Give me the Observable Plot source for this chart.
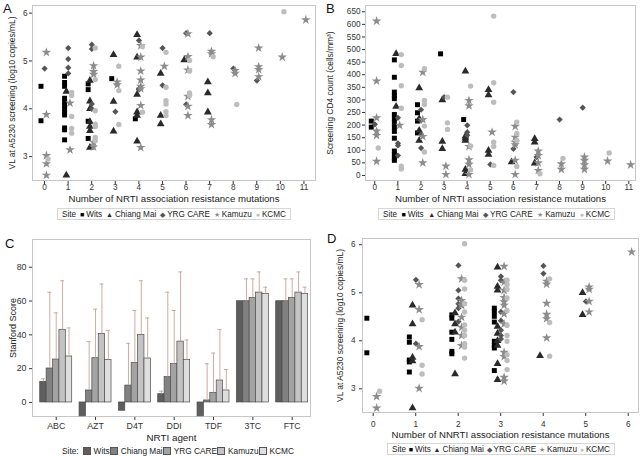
<!DOCTYPE html>
<html><head><meta charset="utf-8">
<script src="https://cdn.jsdelivr.net/npm/d3@7"></script>
<script src="https://cdn.jsdelivr.net/npm/@observablehq/plot@0.6"></script>
<style>
body{margin:0;background:#fff;}
#fig{position:relative;width:640px;height:456px;overflow:hidden;font-family:"Liberation Sans",Arial,sans-serif;color:#222;background:#fff;}
.panel{position:absolute;}
.letter{position:absolute;font-size:13px;line-height:1;color:#111;}
.legend{position:absolute;display:flex;align-items:center;justify-content:space-between;font-size:8.2px;white-space:nowrap;height:12px;box-sizing:border-box;color:#222;padding:0 4px;}
.legend.box{border:1px solid #d6d6d6;}
.legend .it{display:flex;align-items:center;}
.legend .g{font-size:7px;margin-right:2px;line-height:1;}
.sw{display:inline-block;width:6px;height:6px;border:1px solid #555;margin-right:3px;}
</style></head>
<body><div id="fig"></div>
<script>
// ---------- shared ----------
const sites = ["Wits", "Chiang Mai", "YRG CARE", "Kamuzu", "KCMC"];
const siteSymbols = ["square", "triangle", "diamond2", "star", "circle"];
const siteGlyphs = ["■", "▲", "◆", "★", "●"];
const siteColors = ["#000000", "#2a2a2a", "#555555", "#8c8c8c", "#bdbdbd"];
const siteR = [2.8, 2.9, 2.8, 3.0, 2.7];
const siteOffset = [-0.15, -0.075, 0.005, 0.08, 0.15];

// ---------- Panel A: NRTI mutations vs VL ----------
const nrtiTicks = [0,1,2,3,4,5,6,7,8,9,10,11];
const aWits = [[0,4.47],[0,3.75],[1,4.68],[1,4.55],[1,4.47],[1,4.22],[1,4.15],[1,4.08],[1,4.0],[1,3.93],[1,3.87],[1,3.6],[1,3.56],[1,3.35],[2,4.52],[2,4.4],[2,3.74],[2,3.38],[3,4.63],[4,3.79]];
const aChiangMai = [[1,4.36],[1,2.61],[2,4.59],[2,4.16],[2,4.0],[2,3.73],[2,3.63],[2,3.54],[2,3.19],[3,5.13],[3,4.15],[3,3.53],[4,5.55],[4,5.08],[4,4.3],[4,3.93],[4,3.86],[4,3.32],[5,4.74],[5,3.86],[5,3.68],[6,5.02],[7,4.56],[7,4.33],[7,3.93]];
const aYRG = [[0,4.84],[1,5.27],[1,5.04],[1,4.86],[1,4.74],[2,5.34],[2,5.25],[2,4.1],[2,4.0],[3,3.94],[4,5.43],[4,4.42],[4,4.4],[5,5.27],[5,4.49],[6,5.58],[6,4.09],[7,5.58],[8,4.84],[9,4.59]];
const aKamuzu = [[0,5.18],[0,3.88],[0,3.02],[0,2.85],[0,2.61],[1,4.12],[1,3.14],[2,4.9],[2,4.78],[2,4.72],[2,3.3],[2,3.2],[3,4.56],[3,4.5],[4,5.32],[4,5.08],[4,4.79],[4,4.6],[4,4.47],[4,4.42],[4,4.07],[4,3.19],[5,4.89],[6,5.57],[6,5.09],[6,4.81],[6,4.26],[6,4.05],[6,3.86],[7,5.2],[7,5.15],[7,3.77],[7,3.67],[8,4.8],[8,4.74],[9,5.27],[9,4.88],[9,4.82],[9,4.67],[10,5.08],[11,5.86]];
const aKCMC = [[0,2.95],[1,4.34],[1,4.28],[1,3.84],[1,3.59],[1,3.49],[2,5.27],[2,4.61],[2,3.96],[2,3.68],[2,3.63],[2,3.4],[2,3.33],[3,4.89],[3,4.38],[3,3.67],[4,5.3],[4,3.93],[5,5.18],[5,4.45],[5,4.17],[5,4.1],[5,3.94],[5,3.86],[6,5.01],[6,4.79],[6,4.33],[6,4.28],[7,5.09],[8,4.09],[10,6.03]];

// ---------- Panel B: NRTI mutations vs CD4 ----------
const bWits = [[0,216],[0,192],[1,459],[1,390],[1,331],[1,318],[1,305],[1,242],[1,225],[1,209],[1,192],[1,175],[1,148],[1,97],[1,83],[1,69],[1,60],[2,281],[2,249],[2,216],[2,169],[3,483],[4,222]];
const bChiangMai = [[1,483],[1,274],[2,347],[2,225],[2,179],[2,139],[3,300],[3,135],[3,106],[4,414],[4,156],[4,148],[4,139],[4,24],[4,7],[5,340],[5,320],[5,99],[5,83],[6,53],[7,146],[7,132],[7,49]];
const bYRG = [[0,203],[1,229],[1,128],[1,119],[1,79],[2,261],[2,218],[2,163],[2,109],[3,311],[4,199],[4,172],[4,160],[5,44],[6,331],[6,106],[7,73],[8,222],[9,269]];
const bKamuzu = [[0,613],[0,375],[0,229],[0,176],[0,159],[0,56],[1,199],[2,410],[2,222],[2,155],[2,50],[3,37],[3,4],[4,298],[4,277],[4,115],[4,62],[4,44],[4,4],[5,172],[6,195],[6,152],[6,132],[6,122],[6,60],[6,4],[7,97],[7,79],[7,50],[7,20],[8,46],[8,24],[9,73],[9,60],[9,42],[9,24],[10,57],[11,42]];
const bKCMC = [[0,109],[1,480],[1,437],[1,356],[1,267],[1,37],[1,26],[2,424],[2,298],[2,282],[2,196],[2,93],[3,311],[3,209],[3,183],[4,355],[4,117],[4,22],[5,633],[5,368],[5,291],[5,132],[5,115],[5,40],[6,212],[6,166],[6,139],[6,36],[7,7],[8,68],[10,89]];
const cd4Ticks = [0,50,100,150,200,250,300,350,400,450,500,550,600,650];

// ---------- Panel C: Stanford scores ----------
const agents = ["ABC", "AZT", "D4T", "DDI", "TDF", "3TC", "FTC"];
const scoreWits = [12.2, -8.2, -4.9, 4.9, -8.2, 59.9, 59.9];
const scoreChiangMai = [20.1, 7.1, 10, 15, 1.2, 59.9, 59.9];
const scoreYRG = [25.4, 26.2, 23.4, 22.7, 5.7, 61.9, 61.9];
const scoreKamuzu = [43, 40.6, 40, 36, 13, 65, 65];
const scoreKCMC = [27.2, 25.2, 26, 25.2, 7.1, 64.2, 64.2];
const upperWits = [14, null, null, 6.7, null, null, null];
const upperChiangMai = [65.2, 36, 35, 65.2, 22.9, 73.1, 73.1];
const upperYRG = [53, 55.2, 54.4, 54.4, 29.2, 73.1, 73.1];
const upperKamuzu = [72, 70.1, 72, 77.2, 43.2, 77.2, 77.2];
const upperKCMC = [44.1, 42.6, 50, 37, 19.5, 68.2, 68.2];
const barColors = ["#5e5e5e", "#818181", "#a3a3a3", "#c3c3c3", "#dedede"];
const scoreTicks = [0, 20, 40, 60, 80];

// ---------- Panel D: NNRTI mutations vs VL ----------
const nnrtiTicks = [0,1,2,3,4,5,6];
const dWits = [[0,4.47],[0,3.75],[1,4.08],[1,3.97],[1,3.6],[1,3.56],[1,3.35],[2,4.54],[2,4.47],[2,4.18],[2,4.03],[2,3.78],[2,3.73],[3,4.68],[3,4.61],[3,4.51],[3,4.39],[3,3.99],[3,3.9],[3,3.85],[3,3.38]];
const dChiangMai = [[1,4.74],[1,4.35],[1,3.65],[1,3.58],[1,2.6],[2,4.58],[2,4.35],[2,4.18],[2,3.31],[3,5.53],[3,5.13],[3,5.05],[3,4.3],[3,4.15],[3,4.0],[3,3.9],[3,3.52],[3,3.19],[4,3.69],[5,5.0],[5,4.54]];
const dYRG = [[1,5.27],[1,3.94],[2,5.57],[2,5.05],[2,4.88],[2,4.77],[2,4.68],[2,4.4],[3,5.34],[3,5.26],[3,4.6],[3,4.42],[3,4.22],[3,4.11],[3,4.04],[4,5.56],[4,5.4],[5,4.82]];
const dKamuzu = [[0,2.84],[0,2.6],[1,5.17],[1,4.65],[1,3.88],[1,3.01],[2,5.29],[2,4.84],[2,4.74],[2,4.49],[2,4.28],[2,4.11],[2,3.9],[3,5.55],[3,5.22],[3,5.05],[3,4.9],[3,4.81],[3,4.74],[3,4.56],[3,4.35],[3,3.76],[3,3.67],[3,3.24],[3,3.16],[4,5.24],[4,5.18],[4,4.78],[4,4.55],[4,4.46],[4,4.06],[5,5.12],[5,5.07],[5,4.82],[5,4.6],[6,5.85]];
const dKCMC = [[0,2.95],[1,4.44],[1,3.49],[1,3.31],[2,6.02],[2,5.26],[2,5.08],[2,4.77],[2,4.6],[2,4.33],[2,4.22],[2,4.11],[2,3.94],[2,3.87],[2,3.64],[3,5.26],[3,5.17],[3,5.07],[3,4.89],[3,4.63],[3,4.32],[3,4.11],[3,3.99],[3,3.71],[3,3.59],[3,3.4],[4,5.29],[4,4.38],[4,3.68]];
const vlTicks = [3,4,5,6];

// ---------- helpers ----------
const FONT = '"Liberation Sans", Arial, sans-serif';
const fig = document.getElementById("fig");

function place(node, left, top) {
  const div = document.createElement("div");
  div.className = "panel";
  div.style.left = left + "px";
  div.style.top = top + "px";
  div.appendChild(node);
  fig.appendChild(div);
}
function letter(t, left, top) {
  const d = document.createElement("div");
  d.className = "letter";
  d.textContent = t;
  d.style.left = left + "px";
  d.style.top = top + "px";
  fig.appendChild(d);
}
function symbolLegend(left, top, width) {
  const d = document.createElement("div");
  d.className = "legend box";
  d.style.left = left + "px"; d.style.top = top + "px"; d.style.width = width + "px";
  const s = document.createElement("span"); s.textContent = "Site"; d.appendChild(s);
  sites.forEach((name, i) => {
    const it = document.createElement("span"); it.className = "it";
    const g = document.createElement("span"); g.className = "g"; g.textContent = siteGlyphs[i]; g.style.color = siteColors[i];
    const t = document.createElement("span"); t.textContent = name;
    it.appendChild(g); it.appendChild(t); d.appendChild(it);
  });
  fig.appendChild(d);
}
function barLegend(left, top, width) {
  const d = document.createElement("div");
  d.className = "legend";
  d.style.left = left + "px"; d.style.top = top + "px"; d.style.width = width + "px";
  d.style.fontSize = "8.3px";
  d.style.padding = "0 2px";
  const s = document.createElement("span"); s.textContent = "Site:"; s.style.marginRight = "4px"; d.appendChild(s);
  sites.forEach((name, i) => {
    const it = document.createElement("span"); it.className = "it";
    const g = document.createElement("span"); g.className = "sw"; g.style.background = barColors[i];
    const t = document.createElement("span"); t.textContent = name;
    it.appendChild(g); it.appendChild(t); d.appendChild(it);
  });
  fig.appendChild(d);
}

function scatter(o) {
  const marks = [Plot.frame({stroke: "#c6c6c6"})];
  o.series.forEach((pts, i) => marks.push(Plot.dot(pts, {
    x: d => d[0] + siteOffset[i], y: d => d[1],
    symbol: siteSymbols[i], fill: siteColors[i], r: siteR[i], stroke: "none"
  })));
  marks.push(Plot.text([o.xLabel], {frameAnchor: "bottom", dy: o.xLabelDy, text: d => d, textAnchor: "middle", fontSize: 9.6, fill: "#222"}));
  marks.push(Plot.text([o.yLabel], {frameAnchor: "left", rotate: -90, dx: o.yLabelDx, text: d => d, textAnchor: "middle", fontSize: 8.4, fill: "#222"}));
  return Plot.plot({
    width: o.width, height: o.height,
    marginLeft: o.ml, marginRight: o.mr, marginTop: o.mt, marginBottom: o.mb,
    x: {domain: o.xDomain, ticks: o.xTicks, tickSize: 4, tickPadding: o.xPad, label: null, tickFormat: d => String(d)},
    y: {domain: o.yDomain, ticks: o.yTicks, tickSize: 3, tickPadding: o.yPad, label: null, tickFormat: d => String(d)},
    style: {fontSize: "8.2px", fontFamily: FONT, color: "#333", background: "transparent"},
    marks
  });
}

// Panel A
place(scatter({
  series: [aWits, aChiangMai, aYRG, aKamuzu, aKCMC],
  width: 320, height: 206, ml: 32, mr: 5, mt: 5, mb: 26,
  xDomain: [-0.51, 11.49], yDomain: [2.5, 6.16],
  xTicks: nrtiTicks, yTicks: vlTicks, xPad: 0, yPad: 2,
  xLabel: "Number of NRTI association resistance mutations", xLabelDy: 21,
  yLabel: "VL at A5230 screening (log10 copies/mL)", yLabelDx: -20
}), 0, 0);

// Panel B
place(scatter({
  series: [bWits, bChiangMai, bYRG, bKamuzu, bKCMC],
  width: 320, height: 206, ml: 45, mr: 5, mt: 5, mb: 26,
  xDomain: [-0.4, 11.29], yDomain: [-20, 675],
  xTicks: nrtiTicks, yTicks: cd4Ticks, xPad: 0, yPad: 2,
  xLabel: "Number of NRTI association resistance mutations", xLabelDy: 21,
  yLabel: "Screening CD4 count (cells/mm³)", yLabelDx: -35
}), 320, 0);

// Panel C
const scoreSeries = [scoreWits, scoreChiangMai, scoreYRG, scoreKamuzu, scoreKCMC];
const upperSeries = [upperWits, upperChiangMai, upperYRG, upperKamuzu, upperKCMC];
const groupW = 0.813, barW = groupW / 5;
const barRows = [];
agents.forEach((a, i) => sites.forEach((s, j) => {
  const x1 = i - groupW / 2 + j * barW;
  barRows.push({agent: a, site: s, j, x1, x2: x1 + barW, xc: x1 + barW / 2, v: scoreSeries[j][i], u: upperSeries[j][i]});
}));
const errRows = barRows.filter(d => d.u != null);
const errColor = "#c9a296";
const chartC = Plot.plot({
  width: 320, height: 214, marginLeft: 32, marginRight: 10, marginTop: 7, marginBottom: 30,
  x: {domain: [-0.603, 6.466], ticks: d3.range(agents.length), tickFormat: i => agents[i], tickSize: 4, tickPadding: 2, label: null},
  y: {domain: [-8.3, 96.4], ticks: scoreTicks, tickSize: 3, tickPadding: 3, label: null},
  style: {fontSize: "8.8px", fontFamily: FONT, color: "#333", background: "transparent"},
  marks: [
    Plot.frame({stroke: "#c6c6c6"}),
    Plot.rect(barRows, {x1: "x1", x2: "x2", y1: () => 0, y2: "v", fill: d => barColors[d.j], stroke: "#4d4d4d", strokeWidth: 0.7}),
    Plot.ruleX(errRows, {x: "xc", y1: "v", y2: "u", stroke: errColor, strokeWidth: 0.9}),
    Plot.ruleY(errRows, {y: "u", x1: d => d.xc - 0.05, x2: d => d.xc + 0.05, stroke: errColor, strokeWidth: 0.9}),
    Plot.text(["NRTI agent"], {frameAnchor: "bottom", dy: 24, text: d => d, textAnchor: "middle", fontSize: 9.8, fill: "#222"}),
    Plot.text(["Stanford Score"], {frameAnchor: "left", rotate: -90, dx: -19, text: d => d, textAnchor: "middle", fontSize: 9, fill: "#222"})
  ]
});
place(chartC, 0, 232);

// Panel D
place(scatter({
  series: [dWits, dChiangMai, dYRG, dKamuzu, dKCMC],
  width: 320, height: 212, ml: 42, mr: 2, mt: 6, mb: 32,
  xDomain: [-0.252, 6.242], yDomain: [2.507, 6.13],
  xTicks: nnrtiTicks, yTicks: vlTicks, xPad: 5, yPad: 4,
  xLabel: "Number of NNRTI association resistance mutations", xLabelDy: 25,
  yLabel: "VL at A5230 screening (log10 copies/mL)", yLabelDx: -22
}), 320, 232);

// Legends & letters
symbolLegend(57, 208, 234);
symbolLegend(378, 208, 237);
symbolLegend(387, 443, 228);
barLegend(60, 445, 232);
letter("A", 3, 2);
letter("B", 326, 2);
letter("C", 5, 237);
letter("D", 327, 232);
</script></body></html>
